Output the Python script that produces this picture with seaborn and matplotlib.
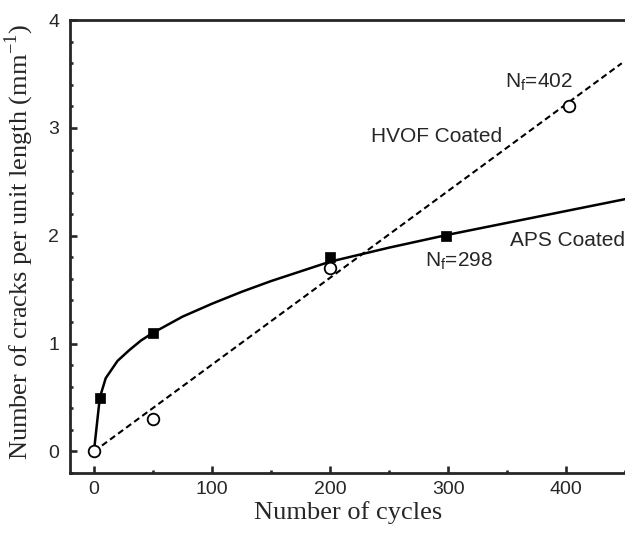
import matplotlib
matplotlib.use("Agg")
import seaborn as sns
from matplotlib import pyplot as plt
from matplotlib.ticker import MultipleLocator


# Measured points
aps_cycles = [5, 50, 200, 298]
aps_cracks = [0.5, 1.1, 1.8, 2.0]
hvof_cycles = [0, 50, 200, 402]
hvof_cracks = [0.0, 0.3, 1.7, 3.2]

# Fitted curves
aps_fit_cycles = [0, 5, 10, 20, 30, 40, 50, 75, 100, 125, 150, 175, 200, 250, 300, 350, 400, 450]
aps_fit_cracks = [0.0, 0.5, 0.68, 0.84, 0.94, 1.03, 1.10, 1.25, 1.37, 1.48, 1.58, 1.67, 1.76, 1.89, 2.01, 2.12, 2.23, 2.34]
hvof_fit_cycles = [0, 447]
hvof_fit_cracks = [0.0, 3.6]

x_ticks = [0, 100, 200, 300, 400]
y_ticks = [0, 1, 2, 3, 4]

sns.set_style("ticks")
plt.rcParams["font.family"] = ["Liberation Sans", "DejaVu Sans"]

fig = plt.figure(figsize=(6.25, 5.36), dpi=100)
ax = fig.add_axes([0.1125, 0.1175, 0.888, 0.845])

# lines
sns.lineplot(x=aps_fit_cycles, y=aps_fit_cracks, ax=ax, color="black",
             linewidth=1.8, estimator=None, sort=False)
sns.lineplot(x=hvof_fit_cycles, y=hvof_fit_cracks, ax=ax, color="black",
             linewidth=1.5, estimator=None, sort=False)
ax.lines[-1].set_dashes([3, 1.8])

# markers
sns.scatterplot(x=aps_cycles, y=aps_cracks, ax=ax, marker="s", s=55,
                color="black", edgecolor="black", linewidth=0.5, zorder=4)
sns.scatterplot(x=hvof_cycles, y=hvof_cracks, ax=ax, marker="o", s=70,
                color="white", edgecolor="black", linewidth=1.3, zorder=5)

ax.set_xlim(-20, 450)
ax.set_ylim(-0.2, 4)
ax.set_xticks(x_ticks)
ax.set_yticks(y_ticks)
ax.xaxis.set_minor_locator(MultipleLocator(50))
ax.yaxis.set_minor_locator(MultipleLocator(0.2))
ax.tick_params(which="both", direction="in", width=1.9, labelsize=14)
ax.tick_params(which="major", length=5)
ax.tick_params(which="minor", length=2.5)
ax.tick_params(axis="x", pad=6)
ax.tick_params(axis="y", pad=8)

for side in ["left", "bottom", "top"]:
    ax.spines[side].set_linewidth(2)
ax.spines["right"].set_visible(False)

ax.set_xlabel("Number of cycles", family="Liberation Serif", fontsize=19, labelpad=2)
ax.set_ylabel(r"Number of cracks per unit length (mm$^\mathregular{-1}$)",
              family="Liberation Serif", fontsize=19)
ax.yaxis.set_label_coords(-0.062, 0.51)

# annotations
ax.text(348, 3.376, r"N$_\mathregular{f}$=402", fontsize=15, va="baseline")
ax.text(235, 2.866, "HVOF Coated", fontsize=15, va="baseline")
ax.text(352, 1.906, "APS Coated", fontsize=15, va="baseline")
ax.text(280, 1.72, r"N$_\mathregular{f}$=298", fontsize=15, va="baseline")

plt.savefig("out.png", dpi=100)
